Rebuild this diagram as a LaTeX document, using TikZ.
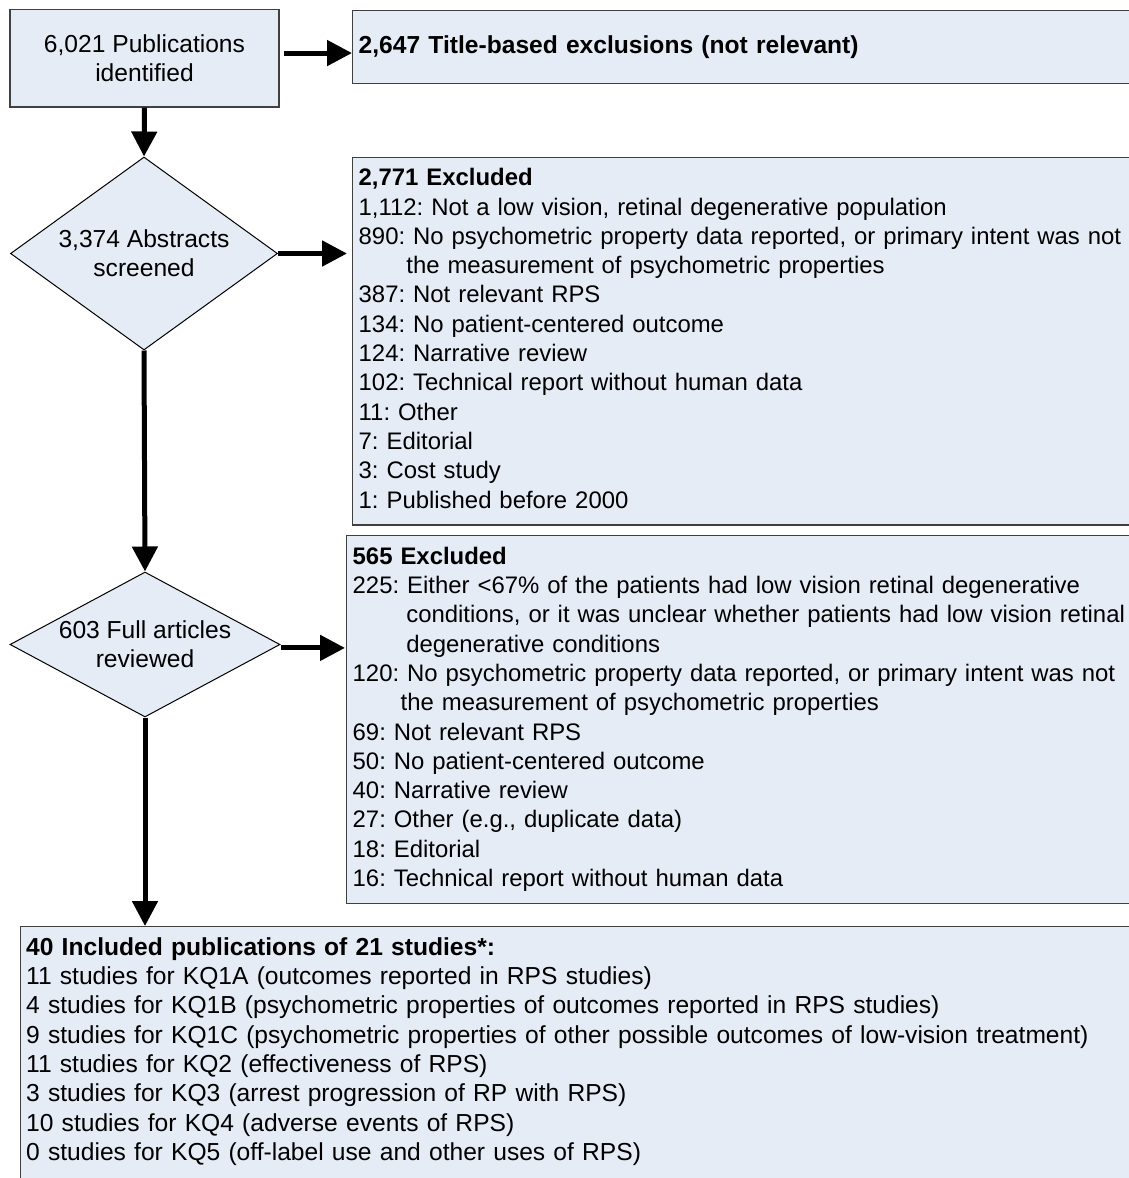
\documentclass[tikz,border=0pt]{standalone}
\usepackage{fontspec}
\setmainfont{Liberation Sans}
\usetikzlibrary{shapes.geometric,arrows.meta}
\definecolor{boxfill}{RGB}{229,236,246}
\definecolor{boxline}{RGB}{64,64,64}
\begin{document}
\frenchspacing
\begin{tikzpicture}[x=0.5pt,y=-0.5pt,
  every node/.style={font=\fontsize{12.3pt}{14.65pt}\selectfont},
  flowbox/.style={rectangle,draw=boxline,line width=0.7pt,fill=boxfill},
  listbox/.style={flowbox,anchor=north west,align=left,inner xsep=3pt,inner ysep=4pt},
  smalllist/.style={listbox,font=\fontsize{11.95pt}{14.65pt}\selectfont},
  decision/.style={diamond,draw=black,line width=0.5pt,fill=boxfill,inner sep=0pt,shape aspect=1.4,align=center},
  arr/.style={line width=2.5pt,-{Triangle[length=12.5pt,width=12.5pt]}}]
\useasboundingbox (0,0) rectangle (1129,1178);
\clip (0,0) rectangle (1129,1178);

\node[flowbox,align=center,minimum width=134.5pt,minimum height=48.75pt] (b1) at (144.5,58.25)
  {6,021 Publications\\identified};
\node[flowbox,anchor=north west,align=left,inner xsep=3pt,minimum height=36.5pt,text width=440pt] (b2) at (352,9.5)
  {\textbf{2,647 Title-based exclusions (not relevant)}};

\node[decision,minimum width=133.5pt,minimum height=96.5pt] (d1) at (144,253.5)
  {3,374 Abstracts\\screened};

\node[smalllist,text width=440pt] (b3) at (352,156.5)
  {\strut\textbf{2,771 Excluded}\\
   1,112: Not a low vision, retinal degenerative population\\
   890: No psychometric property data reported, or primary intent was not\\
   \hspace*{23.85pt}the measurement of psychometric properties\\
   387: Not relevant RPS\\
   134: No patient-centered outcome\\
   124: Narrative review\\
   102: Technical report without human data\\
   11: Other\\
   7: Editorial\\
   3: Cost study\\
   1: Published before 2000\strut};

\node[decision,shape aspect=1.86,minimum width=135pt,minimum height=72.5pt] (d2) at (145,644.5)
  {603 Full articles\\reviewed};

\node[smalllist,text width=440pt] (b4) at (346,535)
  {\strut\textbf{565 Excluded}\\
   225: Either {<}67\% of the patients had low vision retinal degenerative\\
   \hspace*{26.8pt}conditions, or it was unclear whether patients had low vision retinal\\
   \hspace*{26.8pt}degenerative conditions\\
   120: No psychometric property data reported, or primary intent was not\\
   \hspace*{24pt}the measurement of psychometric properties\\
   69: Not relevant RPS\\
   50: No patient-centered outcome\\
   40: Narrative review\\
   27: Other (e.g., duplicate data)\\
   18: Editorial\\
   16: Technical report without human data\strut};

\node[listbox,text width=600pt] (b5) at (19.5,926)
  {\strut\textbf{40 Included publications of 21 studies*:}\\
   11 studies for KQ1A (outcomes reported in RPS studies)\\
   4 studies for KQ1B (psychometric properties of outcomes reported in RPS studies)\\
   9 studies for KQ1C (psychometric properties of other possible outcomes of low-vision treatment)\\
   11 studies for KQ2 (effectiveness of RPS)\\
   3 studies for KQ3 (arrest progression of RP with RPS)\\
   10 studies for KQ4 (adverse events of RPS)\\
   0 studies for KQ5 (off-label use and other uses of RPS)\\
   \strut};

\coordinate (a1s) at ([shift={(2pt,2.6pt)}]b1.east);
\draw[arr] (a1s) -- (a1s -| b2.west);
\draw[arr] (b1.south) -- (d1.north);
\draw[arr,shorten >=2.5pt] (d1.east) -- (d1.east -| b3.west);
\draw[arr] (d1.south) -- (d2.north);
\coordinate (a2s) at ([shift={(0pt,-1.7pt)}]d2.east);
\draw[arr,shorten >=0.5pt] (a2s) -- (a2s -| b4.west);
\draw[arr] (d2.south) -- (d2.south |- b5.north);
\end{tikzpicture}
\end{document}
